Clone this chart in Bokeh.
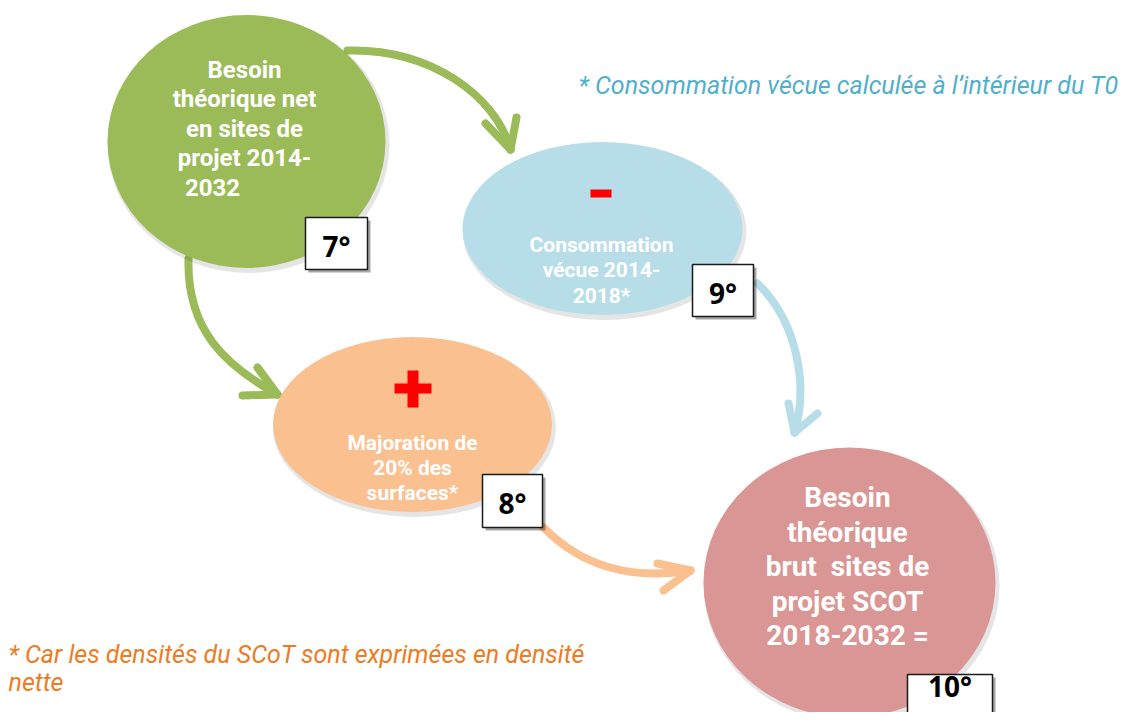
from bokeh.plotting import figure
from bokeh.models import Range1d
from bokeh.core.properties import value
from bokeh.embed import file_html
from bokeh.resources import INLINE

# ---------------- content ----------------
green_lines = ["Besoin", "théorique net", "en sites de", "projet 2014-", "2032"]
blue_lines = ["Consommation", "vécue 2014-", "2018*"]
orange_lines = ["Majoration de", "20% des", "surfaces*"]
pink_lines = ["Besoin", "théorique", "brut\u00a0 sites de", "projet SCOT", "2018-2032 ="]
step_labels = ["7°", "9°", "8°", "10°"]
note_blue = "* Consommation vécue calculée à l\u2019intérieur du T0"
note_orange = ["* Car les densités du SCoT sont exprimées en densité", "nette"]

# ---------------- layout (pixel space) ----------------
node_x = [246, 602, 412, 849]
node_y = [141, 228, 424, 582]
node_w = [278, 280, 279, 292]
node_h = [253, 173, 175, 270]
node_col = ["#9BBB59", "#B7DDE8", "#FAC090", "#D99694"]

box_l = [305, 692, 482, 907]
box_r = [367, 753, 542, 992]
box_t = [217, 264, 474, 674]
box_b = [269, 316, 527, 740]

p = figure(width=1127, height=712, output_backend="svg", toolbar_location=None,
           x_range=Range1d(0, 1127), y_range=Range1d(712, 0),
           min_border=0, outline_line_color=None)
p.axis.visible = False
p.grid.visible = False
p.background_fill_color = "white"
p.border_fill_color = "white"

# arrows (drawn first, beneath nodes)
arrows = [
    # (x0,y0, cx0,cy0, cx1,cy1, x1,y1, color, arm1, arm2)
    (347, 50, 430, 48, 495, 95, 510, 149, "#9BBB59", (485, 123), (516, 117)),
    (188, 258, 186, 330, 225, 365, 277, 394, "#9BBB59", (257, 367), (242, 395)),
    (757, 283, 797, 322, 808, 385, 794, 432, "#B7DDE8", (788, 403), (817, 413)),
    (543, 527, 580, 565, 630, 580, 690, 570, "#FAC090", (657, 563), (663, 590)),
]
for a in arrows:
    x0, y0, cx0, cy0, cx1, cy1, x1, y1, c, m1, m2 = a
    p.bezier(x0=[x0], y0=[y0], x1=[x1], y1=[y1], cx0=[cx0], cy0=[cy0], cx1=[cx1], cy1=[cy1],
             line_color=c, line_width=8, line_cap="round")
    p.segment(x0=[x1, x1], y0=[y1, y1], x1=[m1[0], m2[0]], y1=[m1[1], m2[1]],
              line_color=c, line_width=8, line_cap="round")

# node shadows + nodes
p.ellipse(x=[x + 2 for x in node_x], y=[y + 3 for y in node_y],
          width=[w + 4 for w in node_w], height=[h + 4 for h in node_h],
          fill_color="#000000", fill_alpha=0.10, line_color=None)
p.ellipse(x=node_x, y=node_y, width=node_w, height=node_h,
          fill_color=node_col, line_color=None)

# red signs
p.quad(left=[590], right=[611], top=[189], bottom=[197], fill_color="#FF0000", line_color=None)
p.quad(left=[394, 407], right=[431, 418], top=[383, 370], bottom=[393, 407],
       fill_color="#FF0000", line_color=None)

bold = dict(text_font=value("Roboto"), text_font_style="bold", text_color="white",
            text_align="center", text_baseline="alphabetic")

gy = [69 + 29.5 * i for i in range(len(green_lines))]
gx = [244, 244, 244, 244, 212]
p.text(x=gx, y=gy, text=green_lines, text_font_size="24px", **bold)

by = [244 + 25.5 * i for i in range(len(blue_lines))]
p.text(x=[601] * len(blue_lines), y=by, text=blue_lines, text_font_size="21px", **bold)

oy = [442 + 25 * i for i in range(len(orange_lines))]
p.text(x=[412] * len(orange_lines), y=oy, text=orange_lines, text_font_size="21px", **bold)

py = [497 + 34.5 * i for i in range(len(pink_lines))]
p.text(x=[847] * len(pink_lines), y=py, text=pink_lines, text_font_size="28px", **bold)

# step boxes with shadow
p.quad(left=[l + 3 for l in box_l], right=[r + 3 for r in box_r],
       top=[t + 3 for t in box_t], bottom=[b + 3 for b in box_b],
       fill_color="#000000", fill_alpha=0.35, line_color=None)
p.quad(left=box_l, right=box_r, top=box_t, bottom=box_b,
       fill_color="white", line_color="#1a1a1a", line_width=1.5)
bx = [(l + r) / 2 for l, r in zip(box_l, box_r)]
bb = [245, 292, 502, 685]
p.text(x=bx, y=bb, text=step_labels, text_font=value("Open Sans"), text_font_style="bold",
       text_font_size="28px", text_color="black", text_align="center", text_baseline="alphabetic")

# notes
p.text(x=[578], y=[85], text=[note_blue], text_font=value("Roboto"), text_font_style="italic",
       text_font_size="25px", text_color="#4FAFCC", text_align="left", text_baseline="alphabetic")
p.text(x=[8, 8], y=[654, 682], text=note_orange, text_font=value("Roboto"), text_font_style="italic",
       text_font_size="25px", text_color="#EE7B22", text_align="left", text_baseline="alphabetic")

open("out.html", "w").write(file_html(p, INLINE))
